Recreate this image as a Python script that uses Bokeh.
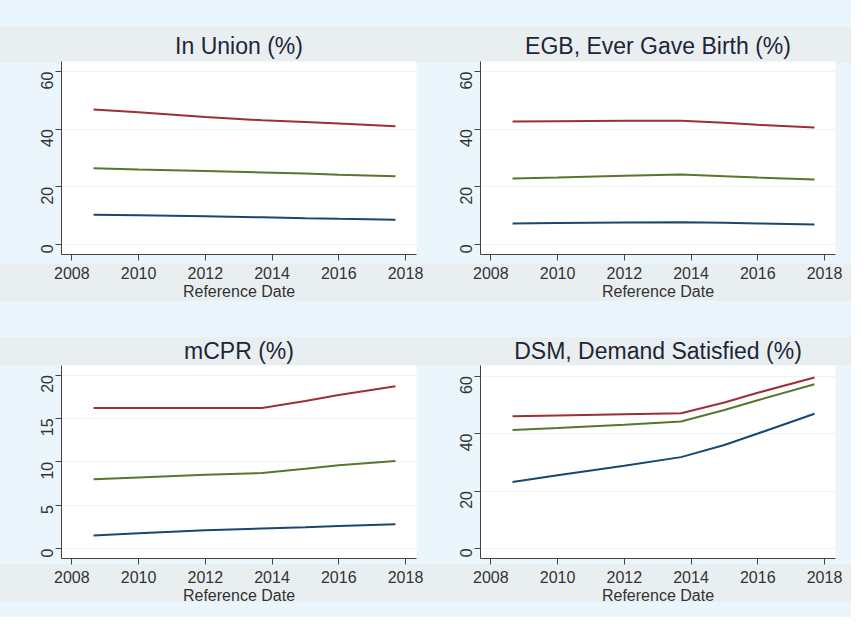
import math
from bokeh.plotting import figure
from bokeh.layouts import column, row
from bokeh.models import FixedTicker, Range1d
from bokeh.embed import file_html
from bokeh.resources import INLINE

# ---- data ----
years = [2008.65, 2010, 2012, 2013.7, 2015, 2016, 2017.7]
x_ticks = [2008, 2010, 2012, 2014, 2016, 2018]

union_red = [46.8, 45.9, 44.2, 43.1, 42.5, 42.0, 41.0]
union_green = [26.4, 26.0, 25.5, 25.0, 24.6, 24.2, 23.7]
union_blue = [10.3, 10.1, 9.8, 9.4, 9.1, 8.9, 8.6]

egb_red = [42.7, 42.8, 42.9, 42.9, 42.2, 41.5, 40.6]
egb_green = [22.9, 23.2, 23.8, 24.3, 23.7, 23.2, 22.5]
egb_blue = [7.3, 7.4, 7.6, 7.7, 7.5, 7.3, 6.9]

mcpr_red = [16.2, 16.2, 16.2, 16.2, 17.0, 17.7, 18.7]
mcpr_green = [8.0, 8.2, 8.5, 8.7, 9.2, 9.6, 10.1]
mcpr_blue = [1.5, 1.75, 2.1, 2.3, 2.45, 2.6, 2.8]

dsm_red = [46.0, 46.3, 46.7, 47.1, 50.8, 54.2, 59.5]
dsm_green = [41.2, 41.9, 43.1, 44.2, 48.2, 51.6, 57.2]
dsm_blue = [23.1, 25.5, 28.8, 31.8, 36.0, 40.0, 46.9]

titles = ["In Union (%)", "EGB, Ever Gave Birth (%)", "mCPR (%)", "DSM, Demand Satisfied (%)"]
y_ticks_pct = [0, 20, 40, 60]
y_ticks_mcpr = [0, 5, 10, 15, 20]
x_label = "Reference Date"

# ---- styling ----
BLUE_BG = "#eaf6fb"
GRAY_BAND = "#e9eff1"
RED = "#9e2f33"
GREEN = "#58762d"
NAVY = "#1a476f"
FONT = "Liberation Sans"
TXT = "#333333"


def make_panel(title, reds, greens, blues, yticks, yr, width, height,
               bl, br, bt, bb, standoff):
    p = figure(width=width, height=height, output_backend="svg",
               toolbar_location=None, title=title,
               x_range=Range1d(2007.69, 2018.33), y_range=Range1d(*yr),
               min_border_left=bl, min_border_right=br,
               min_border_top=bt, min_border_bottom=bb)
    p.border_fill_color = None
    p.background_fill_color = "white"
    p.outline_line_color = None

    for ys, c in ((reds, RED), (greens, GREEN), (blues, NAVY)):
        p.line(years, ys, line_color=c, line_width=2)

    p.title.text_font = FONT
    p.title.text_font_size = "23px"
    p.title.text_font_style = "normal"
    p.title.text_color = "#1e2536"
    p.title.align = "center"
    p.title.standoff = standoff

    p.xaxis.ticker = FixedTicker(ticks=x_ticks)
    p.yaxis.ticker = FixedTicker(ticks=yticks)
    p.xaxis.axis_label = x_label
    p.xaxis.axis_label_standoff = 1
    for ax in (p.xaxis, p.yaxis):
        ax.axis_line_color = "#444444"
        ax.major_tick_line_color = "#444444"
        ax.major_tick_in = 0
        ax.major_tick_out = 6
        ax.minor_tick_line_color = None
        ax.major_label_text_font = FONT
        ax.major_label_text_font_size = "16px"
        ax.major_label_text_color = TXT
        ax.axis_label_text_font = FONT
        ax.axis_label_text_font_size = "16px"
        ax.axis_label_text_font_style = "normal"
        ax.axis_label_text_color = TXT
    p.yaxis.major_label_orientation = math.pi / 2
    p.yaxis.major_label_standoff = 8
    p.xaxis.major_label_standoff = 6

    p.xgrid.grid_line_color = None
    p.ygrid.grid_line_color = "#edf4f7"
    p.ygrid.grid_line_width = 1
    return p


p1 = make_panel(titles[0], union_red, union_green, union_blue, y_ticks_pct,
                (-3.5, 63.5), 429, 319, 61, 13, 61, 65, 5)
p2 = make_panel(titles[1], egb_red, egb_green, egb_blue, y_ticks_pct,
                (-3.5, 63.5), 422, 319, 51, 16, 61, 65, 5)
p3 = make_panel(titles[2], mcpr_red, mcpr_green, mcpr_blue, y_ticks_mcpr,
                (-1.15, 21.1), 429, 298, 61, 13, 46, 59, 3)
p4 = make_panel(titles[3], dsm_red, dsm_green, dsm_blue, y_ticks_pct,
                (-3.5, 63.7), 422, 298, 51, 16, 46, 59, 3)

bands = [(0, 27, BLUE_BG), (27, 63, GRAY_BAND), (63, 264, BLUE_BG),
         (264, 301, GRAY_BAND), (301, 337, BLUE_BG), (337, 365, GRAY_BAND),
         (365, 564, BLUE_BG), (564, 602, GRAY_BAND), (602, 617, BLUE_BG)]
stops = ", ".join(f"{c} {a}px, {c} {b}px" for a, b, c in bands)
layout = column(row(p1, p2), row(p3, p4),
                styles={"background": f"linear-gradient(to bottom, {stops})"})

open("out.html", "w").write(file_html(layout, INLINE))
